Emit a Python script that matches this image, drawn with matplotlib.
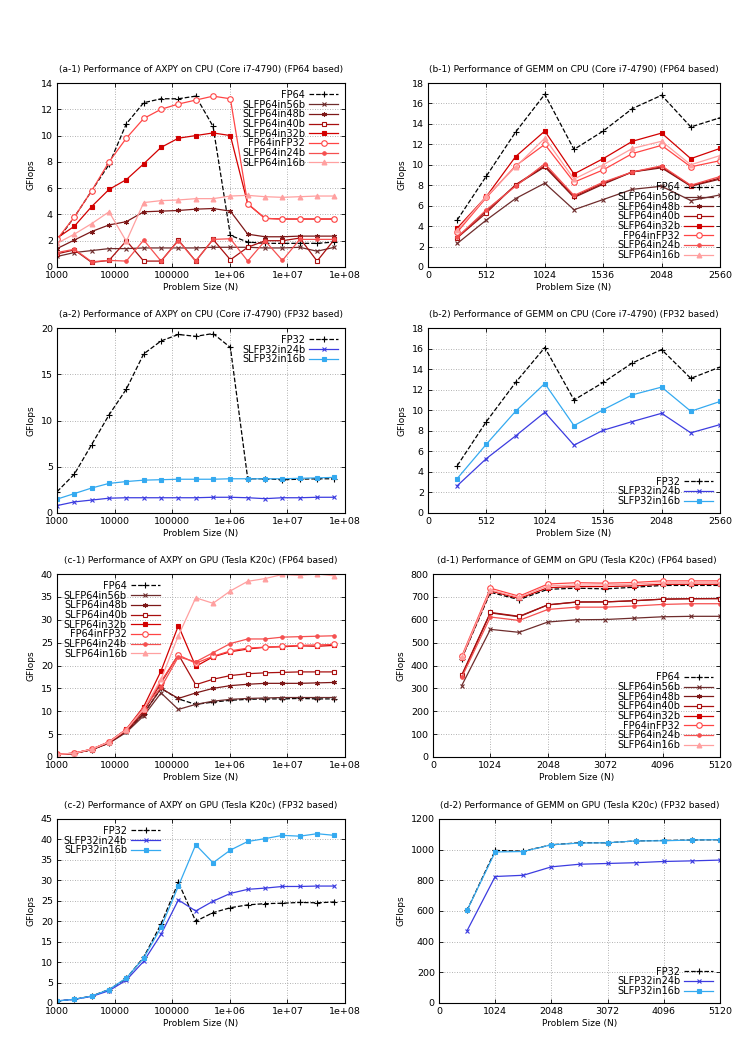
import matplotlib
matplotlib.use("Agg")
import matplotlib.pyplot as plt

# problem sizes
N_AXPY = [1000 * 2 ** k for k in range(17)]
N_GEMM_CPU = [256, 512, 768, 1024, 1280, 1536, 1792, 2048, 2304, 2560]
N_GEMM_GPU = [512, 1024, 1536, 2048, 2560, 3072, 3584, 4096, 4608, 5120]

LOG_TICKS = [1e3, 1e4, 1e5, 1e6, 1e7, 1e8]
LOG_LABELS = ["1000", "10000", "100000", "1e+06", "1e+07", "1e+08"]

FP64_NAMES = ["FP64", "SLFP64in56b", "SLFP64in48b", "SLFP64in40b",
              "SLFP64in32b", "FP64inFP32", "SLFP64in24b", "SLFP64in16b"]
FP32_NAMES = ["FP32", "SLFP32in24b", "SLFP32in16b"]

# (a-1) AXPY CPU FP64
a1 = [
    [2.0, 3.8, 5.8, 7.8, 10.9, 12.5, 12.8, 12.8, 13.0, 10.7, 2.4, 1.9, 1.8, 1.8, 1.8, 1.8, 1.9],
    [0.8, 1.1, 1.25, 1.4, 1.4, 1.45, 1.45, 1.45, 1.45, 1.5, 1.5, 1.5, 1.45, 1.45, 1.5, 1.2, 1.5],
    [1.4, 2.05, 2.7, 3.2, 3.45, 4.2, 4.25, 4.3, 4.4, 4.45, 4.25, 2.5, 2.3, 2.3, 2.35, 2.35, 2.35],
    [1.0, 1.3, 0.35, 0.5, 2.0, 0.45, 0.45, 2.05, 0.45, 2.1, 0.55, 1.5, 2.0, 2.0, 2.2, 0.45, 2.1],
    [2.2, 3.1, 4.6, 5.9, 6.65, 7.85, 9.1, 9.8, 10.0, 10.2, 10.0, 4.8, 3.7, 3.65, 3.65, 3.65, 3.65],
    [2.1, 3.8, 5.8, 8.0, 9.8, 11.3, 12.0, 12.4, 12.7, 13.0, 12.8, 4.8, 3.7, 3.65, 3.65, 3.65, 3.65],
    [1.1, 1.35, 0.4, 0.5, 0.45, 2.05, 0.45, 2.0, 0.45, 2.1, 2.15, 0.45, 2.0, 0.5, 2.1, 2.1, 2.1],
    [1.8, 2.5, 3.3, 4.2, 1.95, 4.9, 5.05, 5.1, 5.2, 5.2, 5.4, 5.45, 5.35, 5.3, 5.35, 5.4, 5.4],
]

# (b-1) GEMM CPU FP64
b1 = [
    [4.6, 8.9, 13.2, 16.9, 11.5, 13.3, 15.5, 16.8, 13.7, 14.6],
    [2.3, 4.6, 6.7, 8.2, 5.6, 6.6, 7.6, 7.9, 6.5, 7.05],
    [2.9, 5.5, 8.0, 9.8, 6.8, 8.1, 9.3, 9.7, 7.9, 8.6],
    [2.85, 5.3, 8.05, 9.9, 6.9, 8.2, 9.3, 9.8, 7.95, 8.7],
    [3.8, 6.9, 10.8, 13.3, 9.1, 10.6, 12.3, 13.1, 10.6, 11.6],
    [3.4, 6.8, 9.9, 12.0, 8.3, 9.5, 11.1, 11.9, 9.8, 10.4],
    [2.9, 5.6, 7.9, 10.1, 7.0, 8.3, 9.3, 9.9, 8.0, 8.85],
    [3.6, 6.9, 9.8, 12.6, 8.6, 10.0, 11.6, 12.3, 10.0, 10.9],
]

# (a-2) AXPY CPU FP32
a2 = [
    [2.3, 4.2, 7.4, 10.6, 13.4, 17.2, 18.6, 19.3, 19.1, 19.4, 17.9, 3.7, 3.7, 3.6, 3.65, 3.7, 3.7],
    [0.8, 1.2, 1.4, 1.6, 1.65, 1.65, 1.65, 1.65, 1.65, 1.7, 1.7, 1.65, 1.55, 1.65, 1.65, 1.7, 1.7],
    [1.5, 2.1, 2.7, 3.2, 3.4, 3.55, 3.6, 3.65, 3.65, 3.65, 3.7, 3.7, 3.7, 3.7, 3.75, 3.8, 3.85],
]

# (b-2) GEMM CPU FP32
b2 = [
    [4.6, 8.9, 12.7, 16.1, 11.0, 12.7, 14.6, 15.9, 13.1, 14.2],
    [2.65, 5.3, 7.5, 9.8, 6.6, 8.05, 8.9, 9.7, 7.8, 8.6],
    [3.35, 6.7, 9.9, 12.6, 8.5, 10.05, 11.5, 12.25, 9.9, 10.85],
]

# (c-1) AXPY GPU FP64
c1 = [
    [0.5, 0.8, 1.6, 3.1, 5.6, 9.5, 15.0, 12.7, 11.5, 12.0, 12.4, 12.6, 12.7, 12.7, 12.8, 12.7, 12.7],
    [0.5, 0.8, 1.6, 3.0, 5.4, 9.0, 14.0, 10.4, 11.5, 12.2, 12.6, 12.8, 12.9, 13.0, 13.0, 13.0, 13.0],
    [0.5, 0.8, 1.6, 3.1, 5.6, 9.5, 15.0, 12.8, 14.0, 15.0, 15.6, 15.9, 16.1, 16.1, 16.1, 16.2, 16.3],
    [0.5, 0.8, 1.6, 3.2, 5.8, 10.0, 16.2, 22.4, 15.8, 17.0, 17.8, 18.2, 18.4, 18.5, 18.6, 18.6, 18.6],
    [0.55, 0.85, 1.7, 3.3, 6.1, 11.0, 18.8, 28.7, 19.8, 21.9, 23.0, 23.6, 24.0, 24.1, 24.3, 24.2, 24.4],
    [0.55, 0.85, 1.7, 3.3, 6.0, 10.5, 16.5, 22.3, 20.5, 22.0, 23.2, 23.8, 24.0, 24.2, 24.4, 24.5, 24.6],
    [0.55, 0.85, 1.7, 3.3, 6.0, 10.8, 15.2, 21.9, 20.8, 22.8, 24.8, 25.8, 25.8, 26.2, 26.3, 26.4, 26.5],
    [0.55, 0.85, 1.7, 3.3, 6.0, 10.5, 17.0, 26.5, 34.8, 33.6, 36.3, 38.4, 39.0, 39.9, 39.7, 40.0, 39.6],
]

# (d-1) GEMM GPU FP64
d1 = [
    [430, 720, 688, 733, 738, 735, 742, 750, 750, 750],
    [312, 558, 545, 590, 600, 601, 607, 613, 615, 615],
    [355, 630, 613, 665, 678, 678, 683, 690, 692, 693],
    [358, 632, 615, 665, 677, 678, 683, 690, 692, 692],
    [432, 726, 693, 740, 745, 745, 748, 755, 755, 755],
    [440, 738, 703, 756, 762, 760, 763, 770, 770, 770],
    [348, 612, 597, 645, 655, 655, 660, 667, 670, 670],
    [435, 730, 698, 748, 752, 752, 756, 762, 762, 762],
]

# (c-2) AXPY GPU FP32
c2 = [
    [0.5, 0.9, 1.7, 3.3, 6.0, 11.2, 19.3, 29.5, 20.0, 22.1, 23.3, 24.0, 24.3, 24.4, 24.6, 24.5, 24.7],
    [0.5, 0.9, 1.6, 3.0, 5.6, 10.2, 16.8, 25.2, 22.5, 24.9, 26.8, 27.8, 28.1, 28.5, 28.5, 28.6, 28.6],
    [0.5, 0.9, 1.7, 3.3, 6.1, 11.0, 18.5, 28.6, 38.7, 34.3, 37.4, 39.5, 40.2, 41.0, 40.8, 41.4, 41.0],
]

# (d-2) GEMM GPU FP32
d2 = [
    [605, 995, 990, 1032, 1045, 1045, 1057, 1060, 1063, 1065],
    [472, 825, 833, 888, 905, 910, 915, 923, 927, 932],
    [605, 985, 988, 1032, 1043, 1045, 1057, 1058, 1063, 1065],
]

ASTER = (6, 2, 0)
FP64_STYLE = [
    dict(color="black", ls="--", marker="+", ms=4),
    dict(color="#6e2c2c", ls="-", marker="x", ms=3),
    dict(color="#7d1818", ls="-", marker=ASTER, ms=3.5),
    dict(color="#a80f0f", ls="-", marker="s", ms=3.5, mfc="white"),
    dict(color="#d20000", ls="-", marker="s", ms=3.5),
    dict(color="#ff4545", ls="-", marker="o", ms=4, mfc="white"),
    dict(color="#f55050", ls="-", marker="o", ms=2.5),
    dict(color="#ffa0a0", ls="-", marker="^", ms=3.5),
]
FP32_STYLE = [
    dict(color="black", ls="--", marker="+", ms=4),
    dict(color="#3c3ce0", ls="-", marker="x", ms=3),
    dict(color="#35aaf0", ls="-", marker="s", ms=2.5),
]

FS = 6.5
W, H = 737, 1061
fig = plt.figure(figsize=(W / 100, H / 100), dpi=100)


def make_axes(left, top, right, bottom):
    return fig.add_axes([left / W, 1 - bottom / H, (right - left) / W, (bottom - top) / H])


def draw(ax, title, xs, series, names, styles, logx, xlim, xticks, ylim, yticks, loc):
    for ys, name, st in zip(series, names, styles):
        ax.plot(xs, ys, label=name, lw=0.9, markeredgewidth=0.8, **st)
    if logx:
        ax.set_xscale("log")
        ax.set_xticks(LOG_TICKS)
        ax.set_xticklabels(LOG_LABELS)
        ax.minorticks_off()
    else:
        ax.set_xticks(xticks)
    ax.set_xlim(*xlim)
    ax.set_ylim(*ylim)
    ax.set_yticks(yticks)
    ax.grid(True, color="#999999", ls=(0, (1, 2)), lw=0.6)
    ax.tick_params(direction="in", top=True, right=True, labelsize=FS + 0.3, length=3, width=0.6, pad=3)
    for s in ax.spines.values():
        s.set_linewidth(0.8)
    ax.set_title(title, fontsize=FS, pad=8)
    ax.set_xlabel("Problem Size (N)", fontsize=FS, labelpad=2)
    ax.set_ylabel("GFlops", fontsize=FS, labelpad=4)
    ax.legend(loc=loc, fontsize=7, frameon=False, markerfirst=False, handlelength=3.0,
              labelspacing=-0.03, borderaxespad=0.3, handletextpad=0.4)


L1, R1 = 57, 345
L2, R2 = 428, 720
rows = [(83, 267), (328, 513), (574, 757), (819, 1003)]

ax = make_axes(L1, rows[0][0], R1, rows[0][1])
draw(ax, "(a-1) Performance of AXPY on CPU (Core i7-4790) (FP64 based)", N_AXPY, a1,
     FP64_NAMES, FP64_STYLE, True, (1000, 1e8), None, (0, 14), range(0, 15, 2), "upper right")

ax = make_axes(L2, rows[0][0], R2, rows[0][1])
draw(ax, "(b-1) Performance of GEMM on CPU (Core i7-4790) (FP64 based)", N_GEMM_CPU, b1,
     FP64_NAMES, FP64_STYLE, False, (0, 2560), range(0, 2561, 512), (0, 18), range(0, 19, 2),
     "lower right")

ax = make_axes(L1, rows[1][0], R1, rows[1][1])
draw(ax, "(a-2) Performance of AXPY on CPU (Core i7-4790) (FP32 based)", N_AXPY, a2,
     FP32_NAMES, FP32_STYLE, True, (1000, 1e8), None, (0, 20), range(0, 21, 5), "upper right")

ax = make_axes(L2, rows[1][0], R2, rows[1][1])
draw(ax, "(b-2) Performance of GEMM on CPU (Core i7-4790) (FP32 based)", N_GEMM_CPU, b2,
     FP32_NAMES, FP32_STYLE, False, (0, 2560), range(0, 2561, 512), (0, 18), range(0, 19, 2),
     "lower right")

ax = make_axes(L1, rows[2][0], R1, rows[2][1])
draw(ax, "(c-1) Performance of AXPY on GPU (Tesla K20c) (FP64 based)", N_AXPY, c1,
     FP64_NAMES, FP64_STYLE, True, (1000, 1e8), None, (0, 40), range(0, 41, 5), "upper left")

ax = make_axes(433, rows[2][0], R2, rows[2][1])
draw(ax, "(d-1) Performance of GEMM on GPU (Tesla K20c) (FP64 based)", N_GEMM_GPU, d1,
     FP64_NAMES, FP64_STYLE, False, (0, 5120), range(0, 5121, 1024), (0, 800), range(0, 801, 100),
     "lower right")

ax = make_axes(L1, rows[3][0], R1, rows[3][1])
draw(ax, "(c-2) Performance of AXPY on GPU (Tesla K20c) (FP32 based)", N_AXPY, c2,
     FP32_NAMES, FP32_STYLE, True, (1000, 1e8), None, (0, 45), range(0, 46, 5), "upper left")

ax = make_axes(439, rows[3][0], R2, rows[3][1])
draw(ax, "(d-2) Performance of GEMM on GPU (Tesla K20c) (FP32 based)", N_GEMM_GPU, d2,
     FP32_NAMES, FP32_STYLE, False, (0, 5120), range(0, 5121, 1024), (0, 1200), range(0, 1201, 200),
     "lower right")

fig.savefig("out.png", dpi=100)
